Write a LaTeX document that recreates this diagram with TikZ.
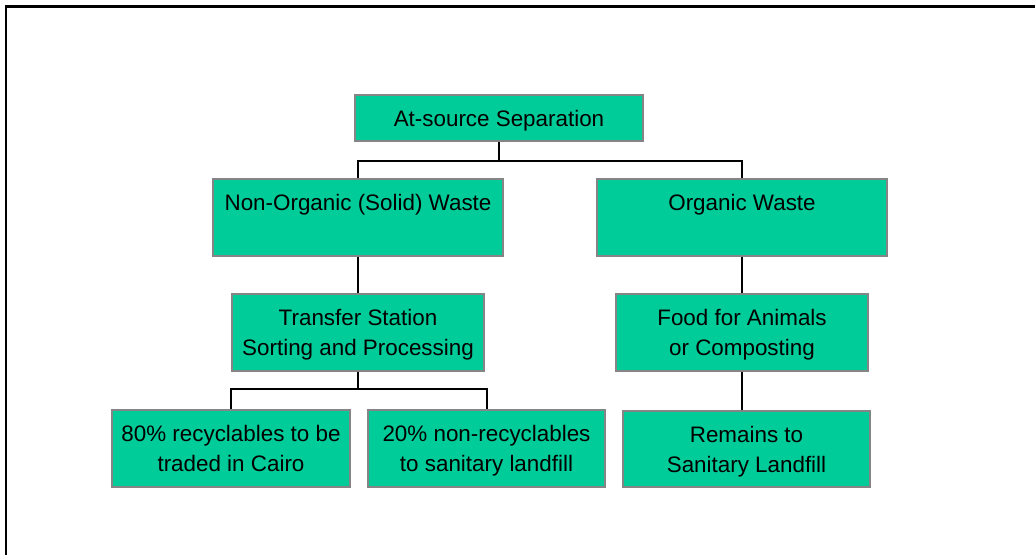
\documentclass[tikz,border=0pt]{standalone}
\usepackage{fontspec}
\setmainfont{Liberation Sans}
\definecolor{boxgreen}{HTML}{00CC99}
\definecolor{boxgray}{HTML}{858585}
\newcommand{\rowstrut}{\rule[-7pt]{0pt}{30pt}}

\begin{document}
\begin{tikzpicture}[x=1pt,y=-1pt]

\tikzset{stage/.style = {shape=rectangle,draw=boxgray,line width=2pt,fill=boxgreen,
  inner sep=0pt,align=center,font=\fontsize{22.4}{30}\selectfont}}
\tikzset{link/.style = {draw=black,line width=2pt}}
\useasboundingbox (0,0) rectangle (1035,555);
%frame
\draw[line width=2.5pt] (6,555) -- (6,6.5) -- (1035,6.5);
%boxes
\node[stage, minimum width=288pt, minimum height=46pt] (sep) at (499,118) {\rowstrut At-source Separation};
\node[stage, minimum width=290pt, minimum height=77pt] (nonorg) at (358,217.5) {\rowstrut Non-Organic (Solid) Waste\\ \rowstrut};
\node[stage, minimum width=290pt, minimum height=77pt] (org) at (742,217.5) {\rowstrut Organic Waste\\ \rowstrut};
\node[stage, minimum width=252pt, minimum height=77pt] (transfer) at (358,332.5) {\rowstrut Transfer Station\\\rowstrut Sorting and Processing};
\node[stage, minimum width=252pt, minimum height=77pt] (food) at (742,332.5) {\rowstrut Food for Animals\\\rowstrut or Composting};
\node[stage, minimum width=238pt, minimum height=77pt] (recyc) at (231,448.5) {\rowstrut 80\% recyclables to be\\\rowstrut traded in Cairo};
\node[stage, minimum width=237pt, minimum height=77pt] (nonrecyc) at (486.5,448.5) {\rowstrut 20\% non-recyclables\\\rowstrut to sanitary landfill};
\node[stage, minimum width=247pt, minimum height=76pt] (remains) at (746.5,449) {\rowstrut Remains to\\\rowstrut Sanitary Landfill};
\coordinate (split1) at (499,161);
\coordinate (split2) at (358,389);
%lines
\path[link] (sep.south) -- (split1);
\path[link] (nonorg.north) |- (split1) -| (org.north);
\path[link] (nonorg.south) -- (transfer.north);
\path[link] (org.south) -- (food.north);
\path[link] (transfer.south) -- (split2);
\path[link] (recyc.north) |- (split2) -| (nonrecyc.north);
\path[link] (food.south) -- (food.south |- remains.north);

\end{tikzpicture}
\end{document}
